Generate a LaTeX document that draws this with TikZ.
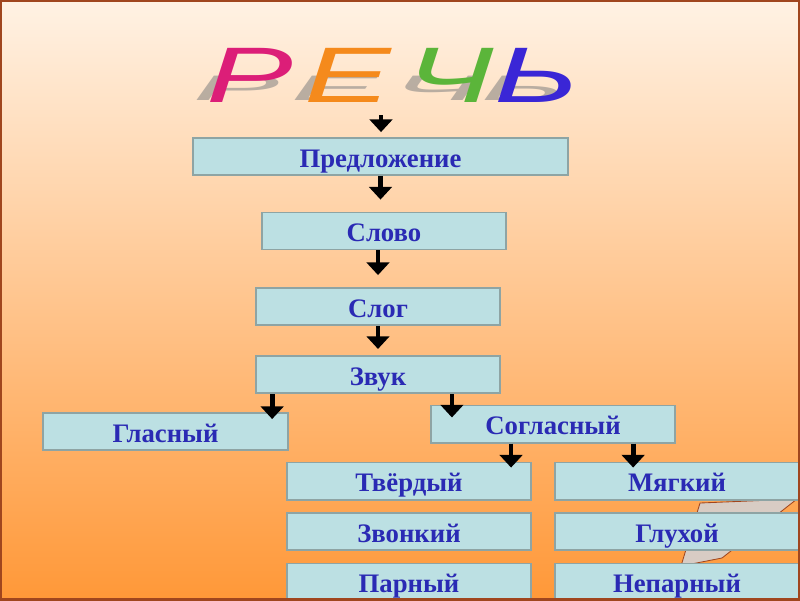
\documentclass[tikz,border=0pt]{standalone}
\usepackage{fontspec}
\setmainfont{Liberation Serif}
\newfontfamily\wordartfont{Liberation Sans}
\usetikzlibrary{arrows.meta}

\definecolor{bgtop}{HTML}{FFF2E4}
\definecolor{bgmid}{HTML}{FFC9A0}
\definecolor{bgbot}{HTML}{FF9838}
\definecolor{framebrown}{HTML}{A0461E}
\definecolor{boxfill}{HTML}{BCE0E3}
\definecolor{boxrim}{HTML}{8EA4A4}
\definecolor{boxtext}{HTML}{2A2AB4}
\definecolor{planegray}{HTML}{D8CCC4}
\definecolor{letterP}{HTML}{DC1E78}
\definecolor{letterE}{HTML}{F58A1C}
\definecolor{letterCh}{HTML}{5BB53A}
\definecolor{letterSoft}{HTML}{3A26D6}

\begin{document}
\begin{tikzpicture}[
    x=0.025cm, y=-0.025cm,
    unit box/.style={draw=boxrim, line width=1.4pt, fill=boxfill, text=boxtext,
        font=\bfseries\fontsize{19}{22}\selectfont,
        text height=15.6pt, text depth=0pt,
        minimum width=6.1cm, minimum height=0.925cm, inner sep=0pt},
    arrow line/.style={line width=3.4pt, -{Triangle[width=16pt,length=9pt]}},
    title letter/.style={font=\wordartfont\itshape\fontsize{56}{60}\selectfont,
        inner sep=0pt, anchor=base}
]
\useasboundingbox (0,0) rectangle (800,600);

%================BACKGROUND================
\shade[top color=bgtop, middle color=bgmid, bottom color=bgbot] (0,0) rectangle (800,600);

% grey sheet peeking out behind the right column
\draw[fill=planegray, draw=framebrown, line width=0.6pt]
    (700,503) -- (797,499) -- (722,558) -- (681,566) -- cycle;

%================TITLE================
% shadow first, then the coloured letters
\foreach \ch/\xc in {Р/250, Е/348, Ч/450, Ь/537} {
    \node[title letter, text=gray, opacity=0.55] (shadow\xc) at (\xc-14,100)
        {\scalebox{1.65}[0.45]{\ch}};
}
\foreach \ch/\col/\xc in {Р/letterP/250, Е/letterE/348, Ч/letterCh/450, Ь/letterSoft/537} {
    \node[title letter, text=\col] (title\xc) at (\xc,102) {\scalebox{1.65}[1]{\ch}};
}
\coordinate (titlefoot) at (381,115);

%================CHAIN================
\node[unit box, minimum width=9.375cm] (sentence) at (380.5,156.5) {Предложение};
\node[unit box] (word) at (384,231) {Слово};
\node[unit box] (syllable) at (378,306.5) {Слог};
\node[unit box] (sound) at (378,374.5) {Звук};
\node[unit box, minimum width=6.125cm] (vowel) at (165.5,431.5) {Гласный};
\node[unit box] (consonant) at (553,424) {Согласный};

% consonant features, left / right
\foreach \lft/\rgt [count=\k] in {Твёрдый/Мягкий, Звонкий/Глухой, Парный/Непарный} {
    \pgfmathsetmacro{\yRow}{481 + (\k-1)*50.5}
    \node[unit box] (left\k) at (409,\yRow) {\lft};
    \node[unit box] (right\k) at (677,\yRow) {\rgt};
}

%================ARROWS================
\coordinate (vowelTip) at ([xshift=-12pt,yshift=-5pt]vowel.north east);
\coordinate (consTip) at ([xshift=15.6pt,yshift=-9.2pt]consonant.north west);
\coordinate (hardTip) at ([xshift=-14.9pt,yshift=-4.3pt]left1.north east);
\coordinate (softTip) at ([xshift=-31.2pt,yshift=-4.3pt]right1.north);

\draw[arrow line, shorten >=3.5pt] (titlefoot) -- (titlefoot |- sentence.north);
\draw[arrow line, shorten >=8.5pt] (sentence.south) -- (sentence.south |- word.north);
\draw[arrow line, shorten >=8.5pt] (syllable.north |- word.south) -- (syllable.north);
\draw[arrow line, shorten >=4.3pt] (syllable.south) -- (sound.north);
\draw[arrow line] (sound.south -| vowelTip) -- (vowelTip);
\draw[arrow line] (sound.south -| consTip) -- (consTip);
\draw[arrow line] (consonant.south -| hardTip) -- (hardTip);
\draw[arrow line] (consonant.south -| softTip) -- (softTip);

% frame
\draw[framebrown, line width=1.5pt] (0.5,0.5) rectangle (799.5,599.5);

\end{tikzpicture}
\end{document}
